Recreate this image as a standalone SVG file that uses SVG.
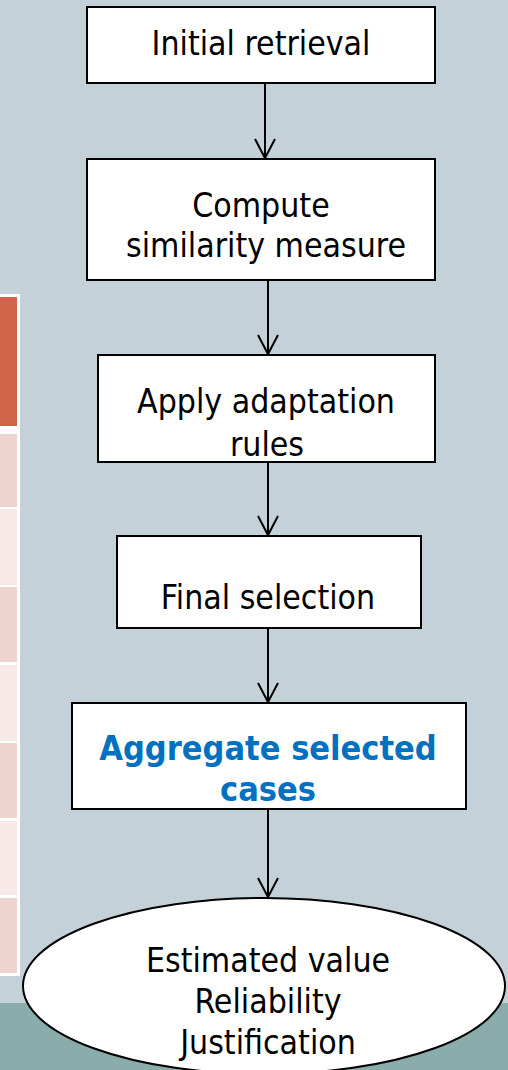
<svg xmlns="http://www.w3.org/2000/svg" width="508" height="1070" viewBox="0 0 508 1070">
<style>
.box{fill:#ffffff;stroke:#000000;stroke-width:2}
.t{font-family:"DejaVu Sans Condensed","DejaVu Sans",sans-serif;font-size:33.5px;fill:#000000;text-anchor:middle}
.b{font-family:"DejaVu Sans Condensed","DejaVu Sans",sans-serif;font-size:34px;font-weight:bold;fill:#0070C0;text-anchor:middle}
.c{fill:none;stroke:#000000;stroke-width:2}
.hdr{fill:#D0634A}
.pk{fill:#EFD3CF}
.lt{fill:#F7E9E7}
</style>
<defs>
<marker id="arr" markerUnits="userSpaceOnUse" markerWidth="24" markerHeight="24" refX="20" refY="11" orient="auto">
<path d="M1,1 L20,11 L1,21" fill="none" stroke="#000000" stroke-width="2"/>
</marker>
</defs>
<rect x="0" y="0" width="508" height="1070" fill="#C5D1D8"/>
<rect x="0" y="1003" width="508" height="67" fill="#8AADAC"/>
<g id="table">
<rect x="0" y="294" width="20" height="682" fill="#ffffff"/>
<rect class="hdr" x="0" y="297" width="17" height="129"/>
<rect class="pk" x="0" y="434" width="17" height="73"/>
<rect class="lt" x="0" y="509" width="17" height="76"/>
<rect class="pk" x="0" y="587" width="17" height="75"/>
<rect class="lt" x="0" y="665" width="17" height="76"/>
<rect class="pk" x="0" y="743" width="17" height="75"/>
<rect class="lt" x="0" y="821" width="17" height="74"/>
<rect class="pk" x="0" y="898" width="17" height="75"/>
</g>
<g id="connectors">
<line class="c" x1="265" y1="83" x2="265" y2="158" marker-end="url(#arr)"/>
<line class="c" x1="268" y1="280" x2="268" y2="354" marker-end="url(#arr)"/>
<line class="c" x1="268" y1="462" x2="268" y2="535" marker-end="url(#arr)"/>
<line class="c" x1="268" y1="628" x2="268" y2="702" marker-end="url(#arr)"/>
<line class="c" x1="268" y1="809" x2="268" y2="897" marker-end="url(#arr)"/>
</g>
<g id="initial-retrieval">
<rect class="box" x="87" y="7" width="348" height="76"/>
<text class="t" x="261" y="55">Initial retrieval</text>
</g>
<g id="compute-similarity">
<rect class="box" x="87" y="159" width="348" height="121"/>
<text class="t" x="261" y="217">Compute</text>
<text class="t" x="266" y="257">similarity measure</text>
</g>
<g id="apply-adaptation">
<rect class="box" x="98" y="355" width="337" height="107"/>
<text class="t" x="266" y="413">Apply adaptation</text>
<text class="t" x="267" y="456">rules</text>
</g>
<g id="final-selection">
<rect class="box" x="117" y="536" width="304" height="92"/>
<text class="t" x="268" y="609">Final selection</text>
</g>
<g id="aggregate">
<rect class="box" x="72" y="703" width="394" height="106"/>
<text class="b" x="268" y="760">Aggregate selected</text>
<text class="b" x="268" y="801">cases</text>
</g>
<g id="result">
<ellipse cx="264" cy="986" rx="241" ry="88" fill="#ffffff" stroke="#000000" stroke-width="2"/>
<text class="t" x="268" y="972">Estimated value</text>
<text class="t" x="268" y="1013">Reliability</text>
<text class="t" x="268" y="1054">Justification</text>
</g>
</svg>
